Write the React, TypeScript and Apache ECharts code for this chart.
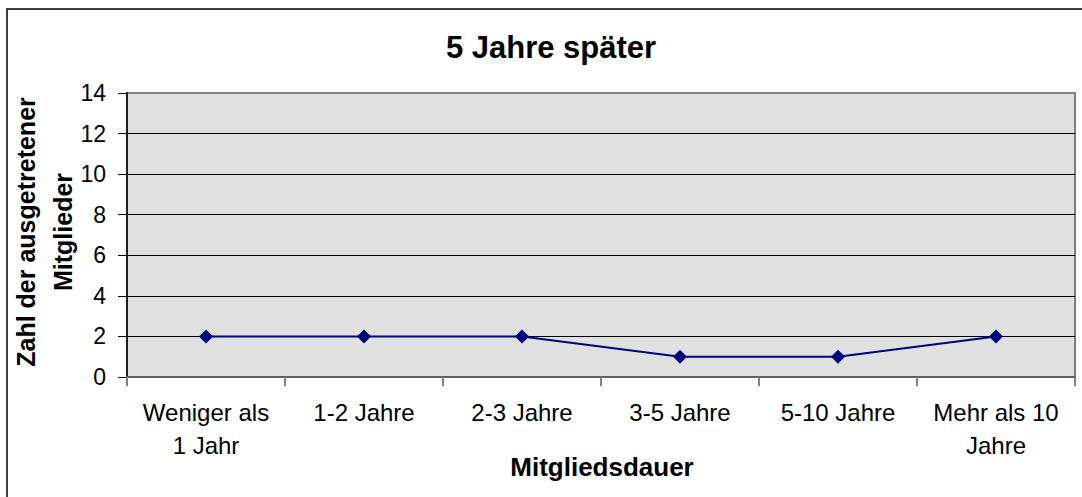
import React, { useEffect, useRef } from "react";
import * as echarts from "echarts";

const categories = ["Weniger als\n1 Jahr", "1-2 Jahre", "2-3 Jahre", "3-5 Jahre", "5-10 Jahre", "Mehr als 10\nJahre"];
const values = [2, 2, 2, 1, 1, 2];
const titleText = "5 Jahre später";
const xName = "Mitgliedsdauer";
const yName = "Zahl der ausgetretener\nMitglieder";

export default function App() {
  const ref = useRef<HTMLDivElement>(null);
  useEffect(() => {
    const chart = echarts.init(ref.current!, null, { renderer: "svg" });
    const font = "Arial, 'Liberation Sans', sans-serif";
    chart.setOption({
      animation: false,
      backgroundColor: "#ffffff",
      grid: {
        left: 127,
        top: 93,
        right: 7,
        bottom: 120,
        show: true,
        backgroundColor: "#e0e0e0",
        borderColor: "#808080",
        borderWidth: 2,
      },
      graphic: [
        {
          type: "rect",
          shape: { x: 7, y: 9, width: 1200, height: 700 },
          style: { fill: "none", stroke: "#000", lineWidth: 1.5 },
          z: 100,
          silent: true,
        },
        {
          type: "text",
          x: 551,
          y: 47,
          style: {
            text: titleText,
            font: `bold 31px ${font}`,
            fill: "#000",
            align: "center",
            verticalAlign: "middle",
          },
        },
        {
          type: "text",
          x: 44,
          y: 232,
          rotation: Math.PI / 2,
          style: {
            text: yName,
            font: `bold 25px ${font}`,
            fill: "#000",
            align: "center",
            verticalAlign: "middle",
            lineHeight: 37,
          },
        },
        {
          type: "text",
          x: 602,
          y: 467,
          style: {
            text: xName,
            font: `bold 26px ${font}`,
            fill: "#000",
            align: "center",
            verticalAlign: "middle",
          },
        },
      ],
      xAxis: {
        type: "category",
        data: categories,
        boundaryGap: true,
        axisLine: { show: true, lineStyle: { color: "#606060", width: 2 } },
        axisTick: { show: true, inside: false, length: 9, alignWithLabel: false, lineStyle: { color: "#808080", width: 2 } },
        axisLabel: {
          interval: 0,
          margin: 19,
          fontFamily: font,
          fontSize: 24,
          color: "#000",
          lineHeight: 33,
        },
        splitLine: { show: false },
      },
      yAxis: {
        type: "value",
        min: 0,
        max: 14,
        interval: 2,
        axisLine: { show: true, lineStyle: { color: "#202020", width: 2 } },
        axisTick: { show: true, length: 9, lineStyle: { color: "#000", width: 1 } },
        axisLabel: { margin: 21, fontFamily: font, fontSize: 23, color: "#000" },
        splitLine: {
          show: true,
          lineStyle: {
            color: ["#000", "#000", "#000", "#000", "#000", "#000", "#000", "#808080"],
            width: 1,
          },
        },
      },
      series: [
        {
          type: "line",
          data: values,
          symbol: "diamond",
          symbolSize: 14,
          lineStyle: { color: "#000080", width: 2 },
          itemStyle: { color: "#000080" },
        },
      ],
    });
    return () => chart.dispose();
  }, []);
  return <div ref={ref} style={{ position: "fixed", left: 0, top: 0, width: 1082, height: 497 }} />;
}
